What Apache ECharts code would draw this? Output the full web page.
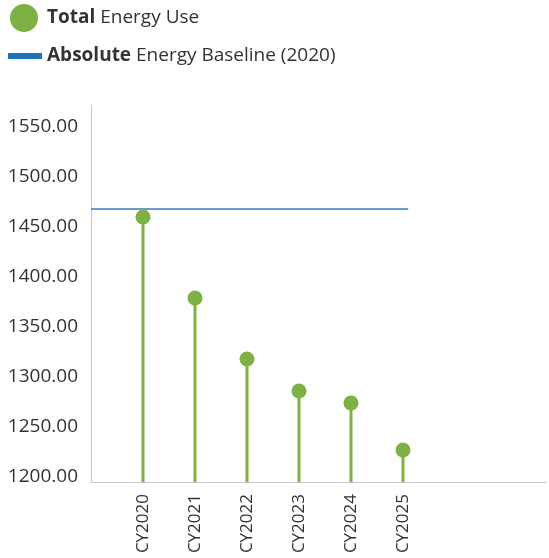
<!DOCTYPE html>
<html>
<head>
<meta charset="utf-8">
<script src="https://cdn.jsdelivr.net/npm/echarts@6/dist/echarts.min.js"></script>
<style>
  html, body { margin: 0; padding: 0; background: #fff; }
  #chart { width: 549px; height: 558px; }
</style>
</head>
<body>
<div id="chart"></div>
<script>
// data
var categories = ['CY2020', 'CY2021', 'CY2022', 'CY2023', 'CY2024', 'CY2025'];
var energyUse = [1465, 1384, 1323, 1291, 1279, 1232];
var baselineValue = 1473;
var baselineSpan = [0, 6.1];
var yTicks = [1200, 1250, 1300, 1350, 1400, 1450, 1500, 1550];

var green = '#7db143';
var font = 'Open Sans';

var points = categories.map(function (c, i) { return [i + 1, energyUse[i]]; });

function boldFirst(n) { return n.replace(/^(\S+)/, '{b|$1}'); }
var legendText = {
    fontFamily: font, fontSize: 19, color: '#333', lineHeight: 20,
    rich: { b: { fontFamily: font, fontSize: 19, fontWeight: 'bold', color: '#333', lineHeight: 20 } }
};

var myChart = echarts.init(document.getElementById('chart'));
var option = {
    animation: false,
    textStyle: { fontFamily: font },
    grid: { left: 91, top: 105, right: 3, bottom: 76 },
    legend: [{
        data: ['Total Energy Use'],
        left: 10, top: 4, padding: 0,
        icon: 'circle', itemWidth: 28, itemHeight: 28,
        textStyle: Object.assign({ padding: [0, 0, 0, 4] }, legendText),
        formatter: boldFirst
    }, {
        data: [{ name: 'Absolute Energy Baseline (2020)', itemStyle: { color: '#1a72bb' } }],
        left: 8, top: 46, padding: 0,
        icon: 'rect', itemWidth: 34, itemHeight: 6,
        textStyle: legendText,
        formatter: boldFirst
    }],
    xAxis: {
        type: 'value', min: 0, max: 8.75, interval: 1,
        axisLine: { show: true, lineStyle: { color: '#c8c8c8', width: 1 } },
        axisTick: { show: false },
        splitLine: { show: false },
        axisLabel: {
            rotate: 90, margin: 12, fontSize: 17, color: '#333', fontFamily: font,
            showMaxLabel: false,
            formatter: function (v) { return categories[v - 1] || ''; }
        }
    },
    yAxis: {
        type: 'value', min: yTicks[0], max: 1577, interval: 50,
        axisLine: { show: true, lineStyle: { color: '#c8c8c8', width: 1 } },
        axisTick: { show: false },
        splitLine: { show: false },
        axisLabel: {
            margin: 13, fontSize: 19, color: '#333', fontFamily: font,
            showMaxLabel: false, verticalAlign: 'bottom', lineHeight: 10,
            formatter: function (v) { return v.toFixed(2); }
        }
    },
    series: [{
        name: 'stems',
        type: 'bar',
        data: points,
        barWidth: 3,
        itemStyle: { color: green },
        silent: true,
        z: 1
    }, {
        name: 'Total Energy Use',
        type: 'scatter',
        data: points,
        symbolSize: 15,
        itemStyle: { color: green, opacity: 1 },
        z: 3
    }, {
        name: 'Absolute Energy Baseline (2020)',
        type: 'line',
        data: [[baselineSpan[0], baselineValue], [baselineSpan[1], baselineValue]],
        symbol: 'none',
        lineStyle: { color: '#3a78bd', width: 1.5 },
        itemStyle: { color: '#1a72bb' },
        z: 2
    }]
};
myChart.setOption(option);
</script>
</body>
</html>
